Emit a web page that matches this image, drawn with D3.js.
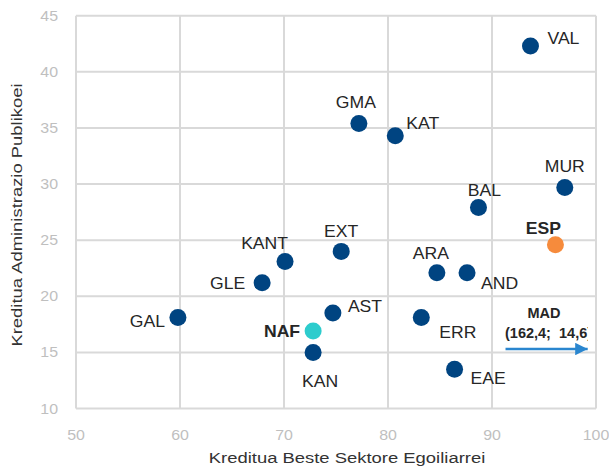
<!DOCTYPE html>
<html>
<head>
<meta charset="utf-8">
<script src="https://cdn.jsdelivr.net/npm/d3@7"></script>
<style>
  body { margin: 0; background: #fff; }
  text { font-family: "Liberation Sans", Arial, sans-serif; }
</style>
</head>
<body>
<script>
let w = 609
let h = 475

// data
let regions = ["VAL", "GMA", "KAT", "MUR", "BAL", "ESP", "EXT", "KANT", "ARA", "AND", "GLE", "AST", "GAL", "ERR", "NAF", "KAN", "EAE"]
let otherSectors = [93.7, 77.2, 80.7, 97.0, 88.7, 96.1, 75.5, 70.1, 84.7, 87.6, 67.9, 74.7, 59.8, 83.2, 72.8, 72.8, 86.4]
let publicAdmin = [42.3, 35.4, 34.3, 29.7, 27.9, 24.6, 24.0, 23.1, 22.1, 22.1, 21.2, 18.5, 18.1, 18.1, 16.9, 15.0, 13.5]
let xTicks = [50, 60, 70, 80, 90, 100]
let yTicks = [10, 15, 20, 25, 30, 35, 40, 45]
let madLabel = "MAD"
let madValue = "(162,4;\u00a0\u00a014,6)"

// label placement: dx, dy (baseline), anchor
let labelPos = {
  VAL: [17, -2, "start"], GMA: [-3, -15, "middle"], KAT: [11, -7, "start"],
  MUR: [0, -15.5, "middle"], BAL: [6, -12, "middle"], ESP: [-12, -11, "middle"],
  EXT: [0, -14, "middle"], KANT: [3, -12, "end"], ARA: [-6, -14, "middle"],
  AND: [14, 16, "start"], GLE: [-17, 6, "end"], AST: [15, -1, "start"],
  GAL: [-13, 9, "end"], ERR: [18, 20, "start"], NAF: [-13, 6, "end"],
  KAN: [7, 35, "middle"], EAE: [16, 15, "start"]
}
let dotColor = {ESP: "#f68b3c", NAF: "#2dcccd"}
let boldLabels = ["ESP", "NAF"]

let svg = d3.select("body").append("svg")
  .attr("width", w)
  .attr("height", h)

let x = d3.scaleLinear().domain([50, 100]).range([76, 596])
let y = d3.scaleLinear().domain([10, 45]).range([408.5, 15.7])

let addText = (g, str, px, py, opts) => {
  let t = g.append("text")
    .attr("transform", "translate(" + px + "," + py + ")" + (opts.rotate ? " rotate(" + opts.rotate + ")" : "") + " scale(" + (opts.sx || 1) + ",1)")
    .attr("text-anchor", opts.anchor || "start")
    .attr("font-size", opts.size || 16)
    .attr("font-weight", opts.bold ? "bold" : "normal")
    .attr("fill", opts.fill || "#262626")
    .text(str)
  if (opts.dy) t.attr("dy", opts.dy)
  return t
}

// grid
let grid = svg.append("g")
grid.selectAll(".gx")
  .data(xTicks)
  .enter()
  .append("line")
  .attr("x1", d => x(d)).attr("x2", d => x(d))
  .attr("y1", y(10)).attr("y2", y(45))
  .attr("stroke", "#d9d9d9")
  .attr("stroke-width", 2)
grid.selectAll(".gy")
  .data(yTicks)
  .enter()
  .append("line")
  .attr("x1", x(50)).attr("x2", x(100))
  .attr("y1", d => y(d)).attr("y2", d => y(d))
  .attr("stroke", "#d9d9d9")
  .attr("stroke-width", 2)

// tick labels
let ticks = svg.append("g")
xTicks.forEach(t => addText(ticks, t, x(t), 440, {anchor: "middle", size: 14.5, sx: 1.1, fill: "#bfbfbf"}))
yTicks.forEach(t => addText(ticks, t, 58, y(t), {anchor: "end", size: 14.5, sx: 1.1, fill: "#bfbfbf", dy: "0.35em"}))

// axis titles
addText(svg, "Kreditua Beste Sektore Egoiliarrei", 347, 463, {anchor: "middle", size: 15.5, sx: 1.19, fill: "#333"})
addText(svg, "Kreditua Administrazio Publikoei", 22, 215, {anchor: "middle", size: 15.5, sx: 1.19, fill: "#333", rotate: -90})

// points
let pts = svg.append("g")
regions.forEach((r, i) => {
  pts.append("circle")
    .attr("cx", x(otherSectors[i]))
    .attr("cy", y(publicAdmin[i]))
    .attr("r", 8.5)
    .attr("fill", dotColor[r] || "#004481")
  let p = labelPos[r]
  addText(pts, r, x(otherSectors[i]) + p[0], y(publicAdmin[i]) + p[1], {anchor: p[2], sx: 1.1, bold: boldLabels.includes(r)})
})

// MAD annotation (off the chart)
svg.append("defs").append("clipPath").attr("id", "clip")
  .append("rect").attr("x", 0).attr("y", 0).attr("width", 588).attr("height", h)
let mad = svg.append("g").attr("clip-path", "url(#clip)")
addText(mad, madLabel, 544, 318, {anchor: "middle", size: 14.5, bold: true})
addText(mad, madValue, 505, 338, {anchor: "start", size: 14.5, bold: true})

svg.append("defs").append("marker")
  .attr("id", "arrow")
  .attr("viewBox", "0 0 10 10")
  .attr("refX", 10).attr("refY", 5)
  .attr("markerWidth", 5.5).attr("markerHeight", 5)
  .attr("markerUnits", "strokeWidth")
  .attr("orient", "auto")
  .append("path")
  .attr("d", "M0,0L10,5L0,10Z")
  .attr("fill", "#2a86cf")

svg.append("line")
  .attr("x1", x(91.3)).attr("x2", x(99.2))
  .attr("y1", y(15.3)).attr("y2", y(15.3))
  .attr("stroke", "#2a86cf")
  .attr("stroke-width", 2.5)
  .attr("marker-end", "url(#arrow)")
</script>
</body>
</html>
